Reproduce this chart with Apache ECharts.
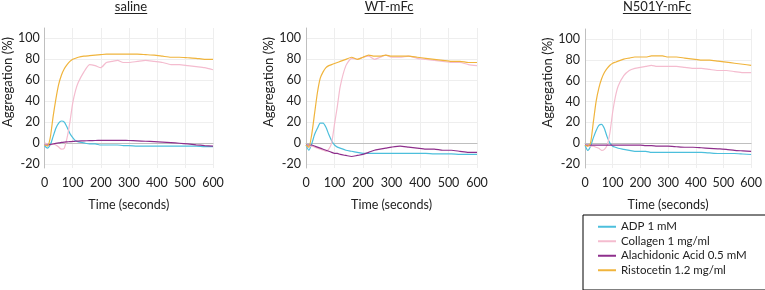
<!DOCTYPE html>
<html>
<head>
<meta charset="utf-8">
<script src="https://cdn.jsdelivr.net/npm/echarts@6/dist/echarts.min.js"></script>
<style>
  html, body { margin: 0; padding: 0; background: #fff; }
  #chart { width: 765px; height: 290px; }
</style>
</head>
<body>
<div id="chart"></div>
<script>
const times = [0, 10, 20, 30, 40, 50, 60, 70, 80, 90, 100, 110, 120, 140, 160, 180, 200, 220, 240, 260, 280, 300, 330, 360, 390, 420, 450, 480, 510, 540, 570, 600];

const panelTitles = ['saline', 'WT-mFc', 'N501Y-mFc'];
const seriesNames = ['ADP 1 mM', 'Collagen 1 mg/ml', 'Alachidonic Acid 0.5 mM', 'Ristocetin 1.2 mg/ml'];
const seriesColors = ['#4cbfdc', '#f4bccf', '#8e2f8c', '#f0b43c'];
const yTickLabels = [-20, 0, 20, 40, 60, 80, 100];
const xTickLabels = [0, 100, 200, 300, 400, 500, 600];

// saline
const salineADP = [-3, -5, -2, 6, 14, 19, 21, 20, 15, 9, 5, 2, 1, 0, -1, -1, -2, -2, -2, -2, -2.5, -2.5, -3, -3, -3, -3, -3, -3, -3, -3, -3.5, -3.5];
const salineCollagen = [0, -1, -2, -1, -2, -4, -6, -5, 5, 20, 38, 50, 58, 68, 75, 74, 72, 77, 78, 79, 77, 77, 78, 79, 78, 77, 75, 75, 74, 73, 72, 70];
const salineAA = [-2, -2, -1.5, -1, -0.5, 0, 0.5, 0.8, 1, 1.2, 1.4, 1.6, 1.8, 2, 2.2, 2.3, 2.4, 2.5, 2.5, 2.5, 2.4, 2.3, 2, 1.6, 1.2, 0.8, 0.3, -0.3, -1, -1.8, -2.5, -3];
const salineRisto = [-2, -3, 5, 25, 42, 56, 65, 71, 75, 78, 80, 81, 82, 83, 83.5, 84, 84.5, 85, 85, 85, 85, 85, 85, 84.5, 84, 83, 82, 82, 81.5, 81, 80, 80];

// WT-mFc
const wtADP = [-2, -7, -1, 8, 14, 19, 19, 15, 8, 2, -2, -4, -5, -7, -8, -9, -10, -10, -10, -10, -10, -10, -10, -10, -10, -10, -10.5, -10.5, -10.5, -11, -11, -11];
const wtCollagen = [-2, -4, -3, -4, -5, -6, -7, -8, -6, 0, 18, 35, 54, 74, 81, 80, 82, 83, 80, 82, 84, 82, 82, 83, 81, 80, 79, 78, 77, 77, 75, 74];
const wtAA = [-2, -2, -2, -3, -4, -5, -6, -7, -8, -9, -10, -10, -11, -12, -13, -12, -11, -9, -7, -6, -5, -4, -3, -4, -5, -6, -6, -7, -7, -8, -9, -9];
const wtRisto = [-2, -4, 8, 28, 48, 62, 68, 72, 74, 75, 76, 77, 78, 80, 82, 80, 82, 84, 83, 83, 84, 83, 83, 83, 82, 81, 80, 79, 78, 78, 77, 77];

// N501Y-mFc
const n501yADP = [-2, -7, -3, 5, 12, 17, 18, 14, 6, 0, -3, -4, -5, -6, -7, -8, -8, -8, -9, -9, -9, -9, -9, -9, -9, -9, -9.5, -10, -10, -10, -10.5, -11];
const n501yCollagen = [-2, -3, -3, -3, -4, -5, -7, -6, -2, 10, 30, 45, 55, 65, 70, 72, 73, 74, 75, 74, 74, 74, 74, 73, 72, 72, 71, 70, 70, 69, 68, 68];
const n501yAA = [-2, -2, -2, -2, -2, -2, -2, -2, -2, -2, -2, -2, -2, -2, -2, -2, -2, -2.5, -2.5, -3, -3, -3, -3.5, -4, -4, -4.5, -5, -5.5, -6, -7, -7.5, -8];
const n501yRisto = [-2, -3, 0, 20, 40, 53, 62, 68, 72, 75, 77, 78, 79, 81, 82, 83, 83, 83, 84, 84, 84, 83, 83, 82, 81, 80, 80, 79, 78, 77, 76, 75];

const panelData = [
  [salineADP, salineCollagen, salineAA, salineRisto],
  [wtADP, wtCollagen, wtAA, wtRisto],
  [n501yADP, n501yCollagen, n501yAA, n501yRisto]
];

const font = 'Lato, sans-serif';
const grids = [
  { left: 43, top: 28, width: 170, height: 140 },
  { left: 306, top: 28, width: 171, height: 140 },
  { left: 585, top: 29, width: 167, height: 139 }
];
const titleCenters = [131, 389, 657];

const pairs = arr => times.map((t, i) => [t, arr[i]]);

const measure = document.createElement('canvas').getContext('2d');
measure.font = '13px Lato';

const xAxes = grids.map((g, i) => ({
  type: 'value',
  gridIndex: i,
  min: 0,
  max: 600,
  interval: 100,
  name: 'Time (seconds)',
  nameLocation: 'middle',
  nameGap: 30,
  nameTextStyle: { fontFamily: font, fontSize: 12.5, color: '#222' },
  axisLine: { lineStyle: { color: '#bfbfbf' } },
  axisTick: { show: false },
  axisLabel: {
    margin: 8,
    fontFamily: font,
    fontSize: 12.5,
    color: '#222',
    formatter: v => (xTickLabels.includes(v) ? String(v) : '')
  },
  splitLine: { show: true, lineStyle: { color: '#eeeeee' } }
}));

// ticks every 4 from -24 so the labelled ones (multiples of 20) get the grid lines
const yAxes = grids.map((g, i) => ({
  type: 'value',
  gridIndex: i,
  min: -24,
  max: 110,
  interval: 4,
  name: 'Aggregation (%)',
  nameLocation: 'middle',
  nameGap: 27,
  nameTextStyle: { fontFamily: font, fontSize: 13, color: '#222', padding: [0, 0, 0, 32] },
  axisLine: { show: true, lineStyle: { color: '#bfbfbf' } },
  axisTick: { show: false },
  axisLabel: {
    margin: 5,
    fontFamily: font,
    fontSize: 12.5,
    color: '#222',
    formatter: v => (yTickLabels.includes(v) ? String(v) : '')
  },
  splitLine: {
    show: true,
    lineStyle: { color: ['rgba(0,0,0,0)', '#eeeeee', 'rgba(0,0,0,0)', 'rgba(0,0,0,0)', 'rgba(0,0,0,0)'] }
  }
}));

const series = [];
panelData.forEach((sets, p) => {
  sets.forEach((vals, k) => {
    series.push({
      name: seriesNames[k],
      type: 'line',
      xAxisIndex: p,
      yAxisIndex: p,
      symbol: 'none',
      smooth: 0.2,
      lineStyle: { width: 1.2, color: seriesColors[k] },
      itemStyle: { color: seriesColors[k] },
      data: pairs(vals)
    });
  });
});

const graphics = [];
panelTitles.forEach((t, i) => {
  const w = measure.measureText(t).width;
  graphics.push({
    type: 'text',
    x: titleCenters[i],
    y: 0,
    style: { text: t, font: '13px Lato', fill: '#222', align: 'center', verticalAlign: 'top' }
  });
  graphics.push({
    type: 'line',
    shape: { x1: titleCenters[i] - w / 2, y1: 13.5, x2: titleCenters[i] + w / 2, y2: 13.5 },
    style: { stroke: '#222', lineWidth: 1 }
  });
});

const chart = echarts.init(document.getElementById('chart'), null, { renderer: 'canvas' });
chart.setOption({
  animation: false,
  color: seriesColors,
  grid: grids,
  xAxis: xAxes,
  yAxis: yAxes,
  legend: {
    data: seriesNames,
    orient: 'vertical',
    left: 583,
    top: 215,
    padding: [5, 20, 13, 15],
    itemGap: 1,
    itemWidth: 18,
    itemHeight: 2,
    icon: 'rect',
    borderColor: '#000',
    borderWidth: 1,
    textStyle: { fontFamily: font, fontSize: 11.5, color: '#222', lineHeight: 13.5 }
  },
  graphic: graphics,
  series: series
});
</script>
</body>
</html>
